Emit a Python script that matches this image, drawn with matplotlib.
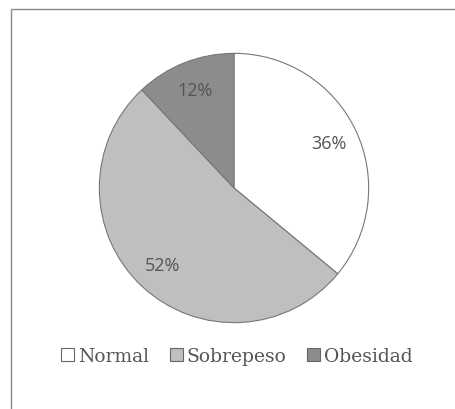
import matplotlib
matplotlib.use("Agg")
import matplotlib.pyplot as plt
from matplotlib.patches import Rectangle, Patch

categories = ["Normal", "Sobrepeso", "Obesidad"]
values = [36, 52, 12]
colors = ["#ffffff", "#bfbfbf", "#8c8c8c"]

W, H = 456, 410
fig = plt.figure(figsize=(W/100, H/100), dpi=100)
fig.patch.set_facecolor("white")

# outer frame
fig.patches.append(Rectangle((11/W, -0.1), 1.2, (H-10)/H + 0.1, transform=fig.transFigure,
                             fill=False, edgecolor="#8a8a8a", linewidth=1.0))

cx, cy, r = 234, 189, 136
ax = fig.add_axes([(cx-r)/W, (H-cy-r)/H, 2*r/W, 2*r/H])
wedges, texts, autotexts = ax.pie(values, colors=colors, startangle=90, counterclock=False,
       autopct=lambda p: f"{p:.0f}%", pctdistance=0.78, radius=1,
       wedgeprops=dict(edgecolor="#777777", linewidth=0.8),
       textprops=dict(color="#555555", fontsize=13, family="Open Sans"))
ax.set_xlim(-1.01, 1.01)
ax.set_ylim(-1.01, 1.01)
ax.axis("off")

handles = [Patch(facecolor=c, edgecolor="#666666", linewidth=0.8) for c in colors]
fig.legend(handles, categories, loc="center", bbox_to_anchor=(237/W, 1-357/H), ncol=3,
           frameon=False, prop=dict(family="DejaVu Serif", size=13.5),
           labelcolor="#555555", handlelength=0.7, handleheight=0.7, handletextpad=0.2,
           columnspacing=1.1)

fig.savefig("out.png", dpi=100)
